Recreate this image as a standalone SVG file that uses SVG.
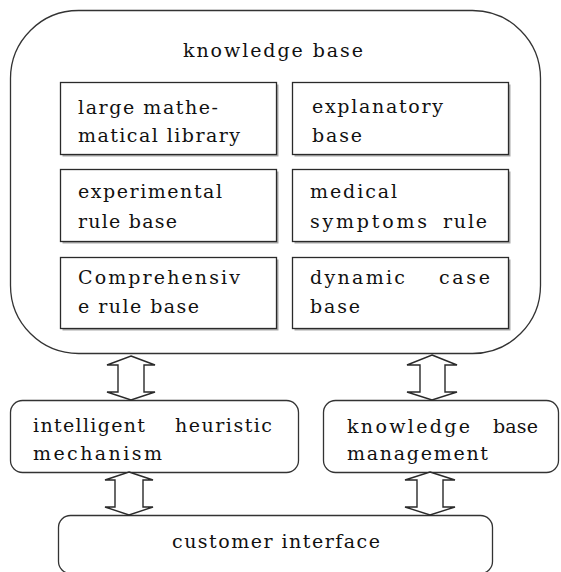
<svg xmlns="http://www.w3.org/2000/svg" width="561" height="572" viewBox="0 0 561 572">
<style>
.box{fill:#fff;stroke:#2a2a2a;stroke-width:1.3}
.sh{fill:#a8a8a8;stroke:none}
.rb{fill:#fff;stroke:#333;stroke-width:1.3}
.arr{fill:#fff;stroke:#2a2a2a;stroke-width:1.4;stroke-linejoin:miter}
text{font-family:"DejaVu Serif","Liberation Serif",serif;font-size:19px;fill:#111}
</style>
<rect width="561" height="572" fill="#fff"/>
<g id="knowledge-base">
<rect class="rb" x="10.5" y="10.5" width="530" height="343" rx="68" ry="68"/>
<text x="183" y="57" textLength="180" lengthAdjust="spacing">knowledge base</text>
</g>
<g id="math-library">
<rect class="sh" x="62.5" y="84.5" width="216" height="72"/>
<rect class="box" x="60.5" y="82.5" width="216" height="72"/>
<text x="78" y="114" textLength="140" lengthAdjust="spacing">large mathe-</text>
<text x="78" y="142" textLength="162" lengthAdjust="spacing">matical library</text>
</g>
<g id="explanatory-base">
<rect class="sh" x="294.5" y="84.5" width="216" height="72"/>
<rect class="box" x="292.5" y="82.5" width="216" height="72"/>
<text x="312" y="113" textLength="131" lengthAdjust="spacing">explanatory</text>
<text x="312" y="142" textLength="50" lengthAdjust="spacing">base</text>
</g>
<g id="experimental-rule-base">
<rect class="sh" x="62.5" y="171.5" width="216" height="72"/>
<rect class="box" x="60.5" y="169.5" width="216" height="72"/>
<text x="78" y="198" textLength="144" lengthAdjust="spacing">experimental</text>
<text x="78" y="228" textLength="99" lengthAdjust="spacing">rule base</text>
</g>
<g id="medical-symptoms-rule">
<rect class="sh" x="294.5" y="171.5" width="216" height="72"/>
<rect class="box" x="292.5" y="169.5" width="216" height="72"/>
<text x="310" y="198" textLength="87" lengthAdjust="spacing">medical</text>
<text x="310" y="228" textLength="117" lengthAdjust="spacing">symptoms</text>
<text x="443" y="228" textLength="44" lengthAdjust="spacing">rule</text>
</g>
<g id="comprehensive-rule-base">
<rect class="sh" x="62.5" y="259.5" width="216" height="71"/>
<rect class="box" x="60.5" y="257.5" width="216" height="71"/>
<text x="78" y="284" textLength="162" lengthAdjust="spacing">Comprehensiv</text>
<text x="78" y="313" textLength="121" lengthAdjust="spacing">e rule base</text>
</g>
<g id="dynamic-case-base">
<rect class="sh" x="294.5" y="259.5" width="216" height="71"/>
<rect class="box" x="292.5" y="257.5" width="216" height="71"/>
<text x="310" y="284" textLength="95" lengthAdjust="spacing">dynamic</text>
<text x="439" y="284" textLength="51" lengthAdjust="spacing">case</text>
<text x="310" y="313" textLength="50" lengthAdjust="spacing">base</text>
</g>
<g id="intelligent-heuristic-mechanism">
<rect class="rb" x="10.5" y="400.5" width="288" height="72" rx="12" ry="12"/>
<text x="33" y="432" textLength="112" lengthAdjust="spacing">intelligent</text>
<text x="175" y="432" textLength="97" lengthAdjust="spacing">heuristic</text>
<text x="33" y="460" textLength="129" lengthAdjust="spacing">mechanism</text>
</g>
<g id="kb-management">
<rect class="rb" x="323.5" y="400.5" width="235" height="72" rx="12" ry="12"/>
<text x="347" y="433" textLength="123" lengthAdjust="spacing">knowledge</text>
<text x="493" y="433" textLength="45" lengthAdjust="spacing">base</text>
<text x="347" y="460" textLength="141" lengthAdjust="spacing">management</text>
</g>
<g id="customer-interface">
<rect class="rb" x="58.5" y="515.5" width="434" height="58" rx="12" ry="12"/>
<text x="172" y="548" textLength="208" lengthAdjust="spacing">customer interface</text>
</g>
<g id="connectors">
<polygon class="arr" points="131,356 155,365 144,365 144,392 155,392 131,400 107,392 118,392 118,365 107,365"/>
<polygon class="arr" points="432,355 457,365 445,365 445,392 457,392 432,400 407,392 420,392 420,365 407,365"/>
<polygon class="arr" points="129,472 153,480 143,480 143,507 153,507 129,515 105,507 115,507 115,480 105,480"/>
<polygon class="arr" points="430,472 455,480 443,480 443,507 455,507 430,515 405,507 417,507 417,480 405,480"/>
</g>
</svg>
